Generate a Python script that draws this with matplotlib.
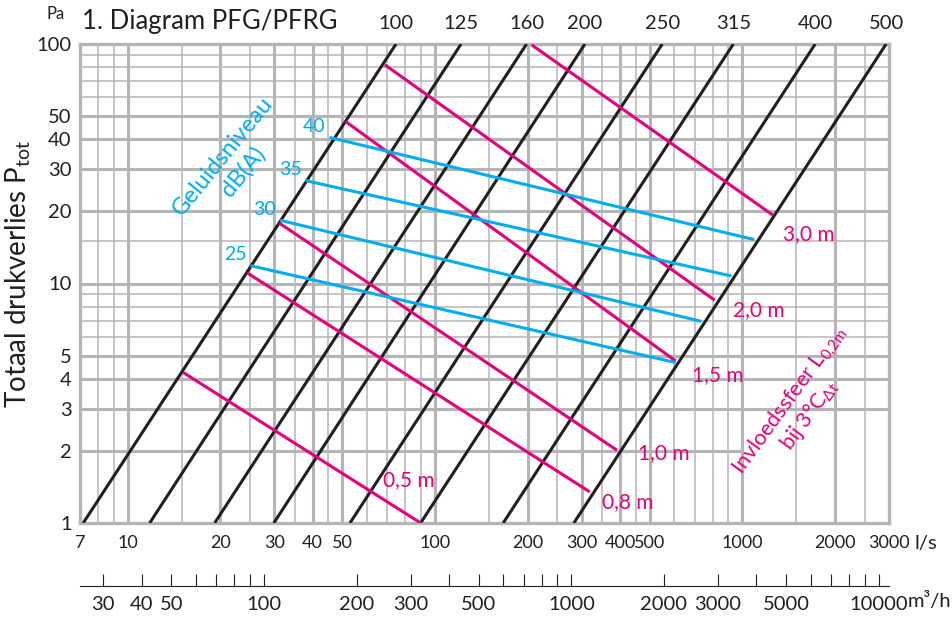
import matplotlib
matplotlib.use("Agg")
import matplotlib.pyplot as plt
from matplotlib.ticker import FixedLocator, FixedFormatter, NullLocator, NullFormatter

plt.rcParams['font.family'] = ['Lato', 'DejaVu Sans']
plt.rcParams['mathtext.fontset'] = 'dejavusans'

# duct diameters (mm) - black lines, flow (l/s) at 1 Pa and at 100 Pa
diameters = [100, 125, 160, 200, 250, 315, 400, 500]
duct_q_at_1pa = [7.17, 11.8, 19.2, 29.9, 52.9, 89.8, 166.7, 283]
duct_q_at_100pa = [74.7, 121.6, 198.6, 307.5, 549, 935, 1726, 2937]

# throw distance (magenta)
throw_labels = ['0,5 m', '0,8 m', '1,0 m', '1,5 m', '2,0 m', '3,0 m']
throw_start_q = [15.3, 24.7, 31.5, 51.6, 69.3, 208]
throw_start_p = [4.22, 11.0, 17.7, 47.1, 81.2, 98.4]
throw_end_q = [89.8, 315.5, 387, 601, 805, 1246]
throw_end_p = [1.0, 1.36, 2.03, 4.79, 8.59, 19.45]

# sound level dB(A) (cyan)
noise_labels = ['25', '30', '35', '40']
noise_start_q = [25.4, 31.7, 38.4, 45.9]
noise_start_p = [11.83, 18.3, 26.8, 40.6]
noise_end_q = [600, 728, 912, 1081]
noise_end_p = [4.69, 6.97, 10.78, 15.3]

# axis ticks
x_ticks = [7, 10, 20, 30, 40, 50, 100, 200, 300, 400, 500, 1000, 2000, 3000]
y_ticks = [1, 2, 3, 4, 5, 10, 20, 30, 40, 50, 100]
x_major_grid = [10, 20, 30, 40, 50, 100, 200, 300, 400, 500, 1000, 2000]
x_minor_grid = [8, 9, 15, 25, 35, 45, 60, 70, 80, 90, 150, 250, 350, 450,
                600, 700, 800, 900, 1500, 2500]
y_major_grid = [3, 4, 5, 10, 20, 30, 40, 50]
y_minor_grid = [6, 7, 8, 9, 15, 60, 70, 80, 90]

m3h_ticks = [30, 40, 50, 60, 70, 80, 90, 100, 200, 300, 400, 500, 600, 700,
             800, 900, 1000, 2000, 3000, 4000, 5000, 6000, 7000, 8000, 9000, 10000]
m3h_labeled = [30, 40, 50, 100, 200, 300, 500, 1000, 2000, 3000, 5000, 10000]

GRID = '#b5b5b5'
INK = '#231f20'
MAGENTA = '#e5007d'
CYAN = '#00aeef'
TS = 14.5  # tick label size

fig = plt.figure(figsize=(9.52, 6.17), dpi=100)
ax = fig.add_axes([80/952, 94/617, 809/952, 479/617])
ax.set_xscale('log')
ax.set_yscale('log')
ax.set_xlim(7, 3000)
ax.set_ylim(1, 100)

# grid
for v in x_minor_grid:
    ax.axvline(v, color=GRID, lw=1.1, zorder=1)
for v in x_major_grid:
    ax.axvline(v, color=GRID, lw=2.2, zorder=1)
for v in y_minor_grid:
    ax.axhline(v, color=GRID, lw=1.1, zorder=1)
for v in y_major_grid:
    ax.axhline(v, color=GRID, lw=2.2, zorder=1)
ax.hlines(2, 7, 1000, color=GRID, lw=2.2, zorder=1)

for s in ax.spines.values():
    s.set_color(GRID)
    s.set_linewidth(2.4)

# duct lines
for d, q1, q100 in zip(diameters, duct_q_at_1pa, duct_q_at_100pa):
    ax.plot([q1, q100], [1, 100], color=INK, lw=2.2, zorder=3, solid_capstyle='butt')
    ax.annotate(str(d), xy=(q100, 1), xycoords=('data', 'axes fraction'),
                xytext=(0, 15), textcoords='offset points', ha='center', va='center',
                fontsize=TS, color=INK, annotation_clip=False)

# throw lines
throw_offsets = [(-27, 31), (10, -8), (16, -3), (13, -11), (14, -8), (8, -14)]
for lab, qs, ps, qe, pe, off in zip(throw_labels, throw_start_q, throw_start_p,
                                    throw_end_q, throw_end_p, throw_offsets):
    ax.plot([qs, qe], [ps, pe], color=MAGENTA, lw=2.2, zorder=4)
    ax.annotate(lab, xy=(qe, pe), xytext=off, textcoords='offset points',
                ha='left', va='center', fontsize=15, color=MAGENTA,
                annotation_clip=False)

# noise lines
for lab, qs, ps, qe, pe in zip(noise_labels, noise_start_q, noise_start_p,
                               noise_end_q, noise_end_p):
    ax.plot([qs, qe], [ps, pe], color=CYAN, lw=2.2, zorder=5)
    ax.annotate(lab, xy=(qs, ps), xytext=(-12, 8), textcoords='offset points',
                ha='center', va='center', fontsize=14, color=CYAN)

ax.text(233/952, 1 - 164/617, 'Geluidsniveau\ndB(A)', transform=fig.transFigure,
        rotation=51, rotation_mode='anchor', ha='center', va='center',
        multialignment='center', fontsize=17, color=CYAN, linespacing=1.2, zorder=6)

ax.text(799/952, 1 - 408/617,
        'Invloedssfeer L$_{\\mathregular{0{,}2m}}$\nbij 3°C$_{\\mathregular{\\Delta t}}$',
        transform=fig.transFigure, rotation=54, rotation_mode='anchor',
        ha='center', va='center', multialignment='center', fontsize=15.5,
        color=MAGENTA, linespacing=0.95, zorder=6)

# ticks
ax.xaxis.set_major_locator(FixedLocator(x_ticks))
ax.xaxis.set_major_formatter(FixedFormatter([str(v) for v in x_ticks]))
ax.xaxis.set_minor_locator(NullLocator())
ax.yaxis.set_major_locator(FixedLocator(y_ticks))
ax.yaxis.set_major_formatter(FixedFormatter([str(v) for v in y_ticks]))
ax.yaxis.set_minor_locator(NullLocator())
ax.tick_params(axis='x', length=0, pad=9, labelsize=13, labelcolor=INK)
ax.tick_params(axis='y', length=0, pad=6, labelsize=TS, labelcolor=INK)

fig.text(915/952, 1 - 543/617, 'l/s', fontsize=TS, color=INK, ha='left', va='center')

ax.set_ylabel('Totaal drukverlies P$_{\\mathregular{tot}}$', fontsize=20, color=INK)
ax.yaxis.set_label_coords(-0.058, 0.52)

fig.text(82/952, 1 - 22/617, '1. Diagram PFG/PFRG', fontsize=18.5, color=INK,
         ha='left', va='center')
fig.text(56/952, 1 - 14/617, 'Pa', fontsize=12, color=INK, ha='center', va='center')

# m3/h scale
ax2 = fig.add_axes([80/952, 31/617, 809/952, 0.0001])
ax2.set_xscale('log')
ax2.set_xlim(7 * 3.6, 3000 * 3.6)
ax2.set_yticks([])
for k in ['top', 'left', 'right']:
    ax2.spines[k].set_visible(False)
ax2.spines['bottom'].set_color(INK)
ax2.spines['bottom'].set_linewidth(0.8)
ax2.xaxis.set_major_locator(FixedLocator(m3h_ticks))
ax2.xaxis.set_major_formatter(FixedFormatter([str(v) if v in m3h_labeled else '' for v in m3h_ticks]))
ax2.xaxis.set_minor_locator(NullLocator())
ax2.xaxis.set_minor_formatter(NullFormatter())
ax2.tick_params(axis='x', direction='in', length=9, width=0.8, color=INK,
                pad=7, labelsize=TS, labelcolor=INK)
fig.text(908/952, 1 - 601/617, 'm³/h', fontsize=TS, color=INK, ha='left', va='center')

fig.savefig('out.png', dpi=100)
